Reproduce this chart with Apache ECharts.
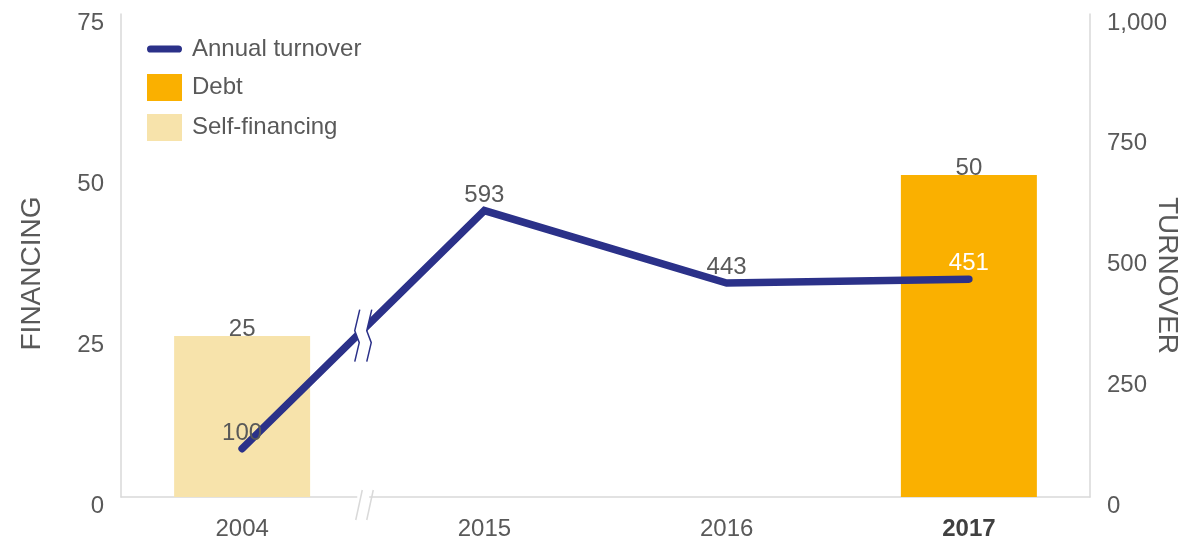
<!DOCTYPE html>
<html>
<head>
<meta charset="utf-8">
<script src="https://cdn.jsdelivr.net/npm/echarts@6/dist/echarts.min.js"></script>
<style>
  html, body { margin: 0; padding: 0; background: #ffffff; }
  #chart { width: 1185px; height: 538px; }
</style>
</head>
<body>
<div id="chart"></div>
<script>
// Years on the category axis
const years = ['2004', '2015', '2016', '2017'];
// Annual turnover (right axis)
const turnover = [100, 593, 443, 451];
// Financing split (left axis)
const debt = [null, null, null, 50];
const selfFinancing = [25, null, null, null];
// Axis ticks
const financingTicks = { min: 0, max: 75, step: 25 };
const turnoverTicks = { min: 0, max: 1000, step: 250 };

const TEXT = '#595959';
const AXIS = '#D9D9D9';
const NAVY = '#2B3189';
const ORANGE = '#FAB000';
const BEIGE = '#F7E3AB';
const FONT = 'Liberation Sans, Arial, sans-serif';
const FS = 24;

const chart = echarts.init(document.getElementById('chart'), null, { renderer: 'canvas' });

chart.setOption({
  animation: false,
  textStyle: { fontFamily: FONT },
  grid: { left: 121, right: 95, top: 14, bottom: 41, outerBoundsMode: 'none', containLabel: false },
  legend: {
    orient: 'vertical',
    left: 142,
    top: 32,
    itemWidth: 35,
    itemHeight: 27,
    itemGap: 13,
    textStyle: { color: TEXT, fontSize: FS, fontFamily: FONT, padding: [0, 0, 0, 5] },
    data: [
      { name: 'Annual turnover', icon: 'path://M4,0 L31,0 A3.5,3.5 0 0 1 31,7 L4,7 A3.5,3.5 0 0 1 4,0 Z', itemStyle: { color: NAVY } },
      { name: 'Debt', icon: 'rect' },
      { name: 'Self-financing', icon: 'rect' }
    ]
  },
  xAxis: {
    type: 'category',
    data: years,
    boundaryGap: true,
    axisLine: { show: true, lineStyle: { color: AXIS, width: 1.5 } },
    axisTick: { show: false },
    splitLine: { show: false },
    axisLabel: {
      margin: 20,
      color: TEXT,
      fontSize: FS,
      fontFamily: FONT,
      formatter: (v) => (v === '2017' ? '{b|' + v + '}' : v),
      rich: { b: { fontWeight: 'bold', color: '#404040', fontSize: FS, fontFamily: FONT } }
    }
  },
  yAxis: [
    {
      type: 'value',
      position: 'left',
      min: financingTicks.min,
      max: financingTicks.max,
      interval: financingTicks.step,
      name: 'FINANCING',
      nameLocation: 'middle',
      nameRotate: 90,
      nameGap: 89,
      nameMoveOverlap: false,
      nameTextStyle: {
        color: TEXT, fontSize: 28, fontFamily: FONT,
        align: 'center', verticalAlign: 'middle', padding: [0, 36, 0, 0]
      },
      axisLine: { show: true, lineStyle: { color: AXIS, width: 1.5 } },
      axisTick: { show: false },
      splitLine: { show: false },
      axisLabel: { margin: 17, color: TEXT, fontSize: FS, fontFamily: FONT, verticalAlign: 'top', lineHeight: 18 }
    },
    {
      type: 'value',
      position: 'right',
      min: turnoverTicks.min,
      max: turnoverTicks.max,
      interval: turnoverTicks.step,
      name: 'TURNOVER',
      nameLocation: 'middle',
      nameRotate: -90,
      nameGap: 77,
      nameMoveOverlap: false,
      nameTextStyle: {
        color: TEXT, fontSize: 28, fontFamily: FONT,
        align: 'center', verticalAlign: 'middle', padding: [0, 0, 0, 40]
      },
      axisLine: { show: true, lineStyle: { color: AXIS, width: 1.5 } },
      axisTick: { show: false },
      splitLine: { show: false },
      axisLabel: {
        margin: 17, color: TEXT, fontSize: FS, fontFamily: FONT, verticalAlign: 'top', lineHeight: 18,
        formatter: (v) => v.toLocaleString('en-US')
      }
    }
  ],
  series: [
    {
      name: 'Self-financing',
      type: 'bar',
      yAxisIndex: 0,
      data: selfFinancing,
      barWidth: 136,
      barGap: '-100%',
      itemStyle: { color: BEIGE },
      label: { show: true, position: 'top', distance: -5, color: TEXT, fontSize: FS, fontFamily: FONT }
    },
    {
      name: 'Debt',
      type: 'bar',
      yAxisIndex: 0,
      data: debt,
      barWidth: 136,
      barGap: '-100%',
      itemStyle: { color: ORANGE },
      label: { show: true, position: 'top', distance: -5, color: TEXT, fontSize: FS, fontFamily: FONT }
    },
    {
      name: 'Annual turnover',
      type: 'line',
      yAxisIndex: 1,
      data: turnover.map((v, i) => (i === turnover.length - 1
        ? { value: v, label: { color: '#ffffff' } }
        : { value: v })),
      symbol: 'circle',
      symbolSize: 1,
      showSymbol: true,
      z: 5,
      lineStyle: { color: NAVY, width: 7.5, cap: 'round', join: 'miter' },
      itemStyle: { color: NAVY },
      label: { show: true, position: 'top', distance: 3, color: TEXT, fontSize: FS, fontFamily: FONT }
    }
  ]
});

// Break markers between the first and second year: on the x axis and across the turnover line
function drawBreaks() {
  const x0 = chart.convertToPixel({ xAxisIndex: 0 }, years[0]);
  const x1 = chart.convertToPixel({ xAxisIndex: 0 }, years[1]);
  const bx = (x0 + x1) / 2;
  const y0 = chart.convertToPixel({ yAxisIndex: 1 }, turnover[0]);
  const y1 = chart.convertToPixel({ yAxisIndex: 1 }, turnover[1]);
  const by = y0 + (y1 - y0) * (bx - x0) / (x1 - x0) + 6;
  const axisY = chart.convertToPixel({ yAxisIndex: 0 }, financingTicks.min);

  const wave = (dx) => [[dx + 2.5, -26], [dx - 2.5, -5], [dx + 2, 7], [dx - 2.5, 26]]
    .map(([px, py]) => [bx + px, by + py]);
  const left = wave(-6);
  const right = wave(6);

  chart.setOption({
    graphic: [
      // gap in the x axis
      { type: 'rect', z: 100, shape: { x: bx - 6, y: axisY - 3, width: 12, height: 6 }, style: { fill: '#ffffff' } },
      { type: 'line', z: 101, shape: { x1: bx - 1, y1: axisY - 7, x2: bx - 7.5, y2: axisY + 23 }, style: { stroke: AXIS, lineWidth: 1.5 } },
      { type: 'line', z: 101, shape: { x1: bx + 10, y1: axisY - 7, x2: bx + 3.5, y2: axisY + 23 }, style: { stroke: AXIS, lineWidth: 1.5 } },
      // gap in the turnover line
      { type: 'polygon', z: 100, shape: { points: left.concat(right.slice().reverse()) }, style: { fill: '#ffffff' } },
      { type: 'polyline', z: 101, shape: { points: left }, style: { stroke: NAVY, lineWidth: 1.5, fill: null } },
      { type: 'polyline', z: 101, shape: { points: right }, style: { stroke: NAVY, lineWidth: 1.5, fill: null } }
    ]
  });
}
drawBreaks();
</script>
</body>
</html>
